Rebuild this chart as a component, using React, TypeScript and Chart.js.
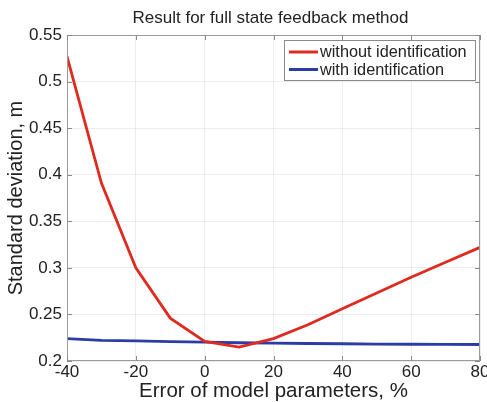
import React, { useEffect, useRef } from "react";
import { Chart, registerables } from "chart.js";

Chart.register(...registerables);

// Error of model parameters, %
const errorPercent = [-40, -30, -20, -10, 0, 10, 20, 30, 40, 50, 60, 70, 80];
// Standard deviation, m
const withoutIdentification = [0.527, 0.391, 0.3, 0.246, 0.221, 0.215, 0.224, 0.239, 0.256, 0.273, 0.29, 0.306, 0.322];
const withIdentification = [0.224, 0.2222, 0.2215, 0.2208, 0.2202, 0.2196, 0.2192, 0.2188, 0.2185, 0.2182, 0.218, 0.2178, 0.2177];

const xTicks = [-40, -20, 0, 20, 40, 60, 80];
const yTicks = [0.2, 0.25, 0.3, 0.35, 0.4, 0.45, 0.5, 0.55];

const titleText = "Result for full state feedback method";
const xTitle = "Error of model parameters, %";
const yTitle = "Standard deviation, m";
const seriesLabels = ["without identification", "with identification"];

const RED = "#df2a1f";
const BLUE = "#2c3ca6";
const FONT = "'Liberation Sans', Arial, Helvetica, sans-serif";

const W = 487;
const H = 402;

// Frame, inward tick marks, titles and the in-plot legend (MATLAB-style axes)
const decorations = {
  id: "decorations",
  afterDraw(chart: any) {
    const { ctx, chartArea: a } = chart;
    const xs = chart.scales.x;
    const ys = chart.scales.y;
    ctx.save();

    // box around the axes
    ctx.strokeStyle = "#9a9a9a";
    ctx.lineWidth = 1;
    ctx.strokeRect(a.left + 0.5, a.top + 0.5, a.right - a.left - 1, a.bottom - a.top - 1);

    // inward tick marks on all four sides
    const tl = 5;
    ctx.strokeStyle = "#8a8a8a";
    ctx.beginPath();
    xTicks.forEach((v) => {
      const px = Math.round(xs.getPixelForValue(v)) + 0.5;
      ctx.moveTo(px, a.bottom);
      ctx.lineTo(px, a.bottom - tl);
      ctx.moveTo(px, a.top);
      ctx.lineTo(px, a.top + tl);
    });
    yTicks.forEach((v) => {
      const py = Math.round(ys.getPixelForValue(v)) + 0.5;
      ctx.moveTo(a.left, py);
      ctx.lineTo(a.left + tl, py);
      ctx.moveTo(a.right, py);
      ctx.lineTo(a.right - tl, py);
    });
    ctx.stroke();

    // chart title
    ctx.fillStyle = "#222";
    ctx.font = `17px ${FONT}`;
    ctx.textAlign = "center";
    ctx.textBaseline = "alphabetic";
    ctx.fillText(titleText, (a.left + a.right) / 2 - 3, 23);

    // x axis title
    ctx.font = `20.5px ${FONT}`;
    ctx.fillText(xTitle, (a.left + a.right) / 2, 397);

    // y axis title
    ctx.save();
    ctx.translate(22, (a.top + a.bottom) / 2);
    ctx.rotate(-Math.PI / 2);
    ctx.font = `20px ${FONT}`;
    ctx.fillText(yTitle, 0, 0);
    ctx.restore();

    // legend
    const lx = 284;
    const ly = 40;
    const lw = 191;
    const lh = 40;
    ctx.fillStyle = "#fff";
    ctx.fillRect(lx, ly, lw, lh);
    ctx.strokeStyle = "#8a8a8a";
    ctx.lineWidth = 1;
    ctx.strokeRect(lx + 0.5, ly + 0.5, lw, lh);
    const colors = [RED, BLUE];
    const rows = [52, 69.5];
    ctx.font = `16.3px ${FONT}`;
    ctx.textAlign = "left";
    ctx.textBaseline = "middle";
    seriesLabels.forEach((label, i) => {
      ctx.strokeStyle = colors[i];
      ctx.lineWidth = 3;
      ctx.beginPath();
      ctx.moveTo(289, rows[i]);
      ctx.lineTo(318, rows[i]);
      ctx.stroke();
      ctx.fillStyle = "#222";
      ctx.fillText(label, 320, rows[i] + 1);
    });

    ctx.restore();
  },
};

export default function App() {
  const canvasRef = useRef<HTMLCanvasElement | null>(null);

  useEffect(() => {
    const canvas = canvasRef.current;
    if (!canvas) return;
    const chart = new Chart(canvas, {
      type: "line",
      data: {
        datasets: [
          {
            label: seriesLabels[0],
            data: errorPercent.map((x, i) => ({ x, y: withoutIdentification[i] })),
            borderColor: RED,
            borderWidth: 2.8,
            pointRadius: 0,
            tension: 0,
          },
          {
            label: seriesLabels[1],
            data: errorPercent.map((x, i) => ({ x, y: withIdentification[i] })),
            borderColor: BLUE,
            borderWidth: 2.8,
            pointRadius: 0,
            tension: 0,
          },
        ],
      },
      options: {
        responsive: false,
        animation: false,
        events: [],
        layout: { padding: { top: 35, right: 7, left: 0, bottom: 0 } },
        plugins: {
          legend: { display: false },
          title: { display: false },
          tooltip: { enabled: false },
        },
        scales: {
          x: {
            type: "linear",
            min: -40,
            max: 80,
            afterBuildTicks: (scale: any) => {
              scale.ticks = xTicks.map((value) => ({ value }));
            },
            afterFit: (scale: any) => {
              scale.height = H - 361;
              scale.paddingLeft = 0;
              scale.paddingRight = 0;
            },
            grid: { color: "rgba(0,0,0,0.07)", drawTicks: false },
            border: { display: false },
            ticks: {
              color: "#222",
              font: { family: FONT, size: 17 },
              padding: 1,
              maxRotation: 0,
              callback: (v: any) => String(v),
            },
          },
          y: {
            type: "linear",
            min: 0.2,
            max: 0.55,
            afterBuildTicks: (scale: any) => {
              scale.ticks = yTicks.map((value) => ({ value }));
            },
            afterFit: (scale: any) => {
              scale.width = 67;
              scale.paddingTop = 0;
              scale.paddingBottom = 0;
            },
            grid: { color: "rgba(0,0,0,0.07)", drawTicks: false },
            border: { display: false },
            ticks: {
              color: "#222",
              font: { family: FONT, size: 17 },
              padding: 5,
              callback: (v: any) => String(+Number(v).toFixed(2)),
            },
          },
        },
      },
      plugins: [decorations],
    });
    return () => chart.destroy();
  }, []);

  return (
    <div style={{ position: "absolute", left: 0, top: 0, width: W, height: H, background: "#fff" }}>
      <canvas ref={canvasRef} width={W} height={H} style={{ display: "block", width: W, height: H }} />
    </div>
  );
}
